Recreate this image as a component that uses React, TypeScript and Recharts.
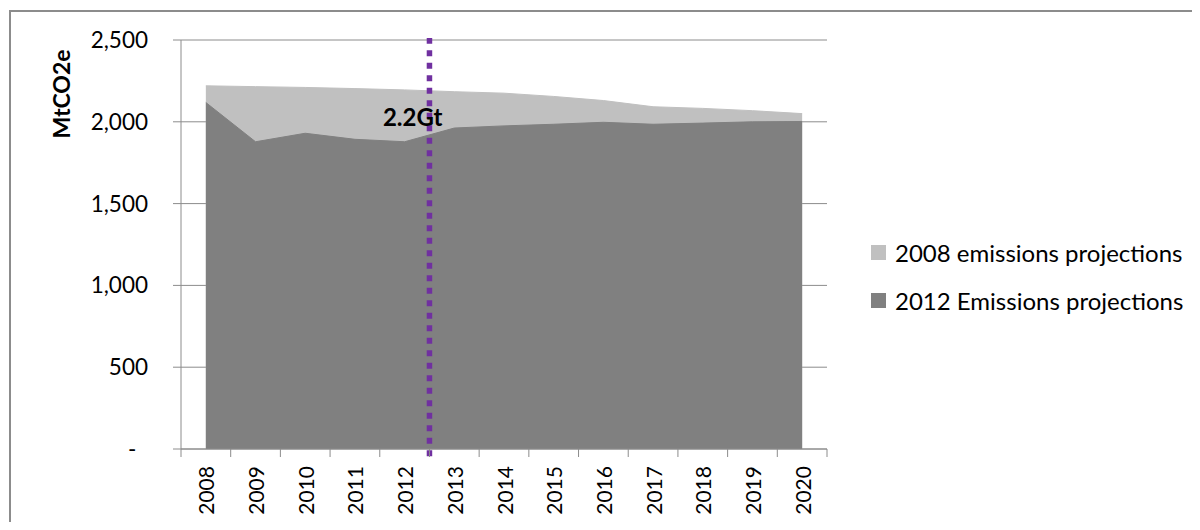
import React from 'react';
import { AreaChart, Area, XAxis, YAxis, CartesianGrid, ReferenceLine, Legend } from 'recharts';

const years = [2008, 2009, 2010, 2011, 2012, 2013, 2014, 2015, 2016, 2017, 2018, 2019, 2020];
const projections2008 = [2220, 2215, 2210, 2203, 2195, 2184, 2175, 2155, 2130, 2092, 2082, 2068, 2050];
const projections2012 = [2118, 1878, 1930, 1893, 1878, 1962, 1975, 1985, 1997, 1985, 1992, 2000, 2002];
const yTicks = [0, 500, 1000, 1500, 2000, 2500];
const seriesNames = ['2008 emissions projections', '2012 Emissions projections'];
const dividerYear = 2012.5;
const dividerLabel = '2.2Gt';
const yTitle = 'MtCO2e';

const data = years.map((year, i) => ({
  year,
  p2008: projections2008[i],
  p2012: projections2012[i],
}));

// tick marks sit between the years (Excel style), labels sit on the years
const xTicks = years.flatMap((y) => [y - 0.5, y]).concat(years[years.length - 1] + 0.5);

const FONT = 'Lato, "Noto Sans", sans-serif';
const AXIS = '#8c8c8c';
const LIGHT = '#c0c0c0';
const DARK = '#808080';
const PURPLE = '#7030a0';

const YearTick = (props: any) => {
  const { x, y, payload } = props;
  if (!Number.isInteger(payload.value)) {
    return <line x1={x} x2={x} y1={y - 17} y2={y - 9} stroke={AXIS} />;
  }
  return (
    <text
      x={x}
      y={y}
      transform={`rotate(-90 ${x} ${y})`}
      textAnchor="end"
      dominantBaseline="central"
      fontFamily={FONT}
      fontSize={21}
      fill="#000"
    >
      {payload.value}
    </text>
  );
};

const formatY = (v: number) => (v === 0 ? '-\u00a0\u00a0' : v.toLocaleString('en-US'));

const YTitle = ({ viewBox }: any) => {
  const x = viewBox.x + 53;
  const y = viewBox.y + 54;
  return (
    <text
      x={x}
      y={y}
      transform={`rotate(-90 ${x} ${y})`}
      textAnchor="middle"
      dominantBaseline="central"
      fontFamily={FONT}
      fontWeight="bold"
      fontSize={23}
      fill="#000"
    >
      {yTitle}
    </text>
  );
};

const DividerLabel = ({ viewBox }: any) => (
  <text
    x={viewBox.x + 13}
    y={viewBox.y + 88}
    textAnchor="end"
    fontFamily={FONT}
    fontWeight="bold"
    fontSize={24}
    fill="#000"
  >
    {dividerLabel}
  </text>
);

const LegendContent = ({ payload }: any) => (
  <div style={{ fontFamily: FONT, fontSize: 24, color: '#000', whiteSpace: 'nowrap' }}>
    {(payload || []).map((entry: any) => (
      <div key={entry.value} style={{ display: 'flex', alignItems: 'center', height: 48 }}>
        <span style={{ width: 15, height: 15, background: entry.color, marginRight: 9, display: 'inline-block' }} />
        <span>{entry.value}</span>
      </div>
    ))}
  </div>
);

export default function App() {
  return (
    <div style={{ position: 'relative', width: 1192, height: 522, marginBottom: -8 }}>
      <div
        style={{
          position: 'absolute',
          left: 1,
          top: 2,
          right: 0,
          bottom: 0,
          borderTop: `2px solid ${AXIS}`,
          borderLeft: `2px solid ${AXIS}`,
        }}
      />
      <div style={{ position: 'absolute', left: 0, top: 0 }}>
        <AreaChart width={1190} height={520} data={data} margin={{ top: 32, right: 371, left: 0, bottom: 0 }}>
          <CartesianGrid vertical={false} stroke={AXIS} />
          <XAxis
            dataKey="year"
            type="number"
            domain={[years[0] - 0.5, years[years.length - 1] + 0.5]}
            ticks={xTicks}
            interval={0}
            tick={<YearTick />}
            tickLine={false}
            tickSize={8}
            tickMargin={9}
            axisLine={{ stroke: AXIS }}
            height={79}
          />
          <YAxis
            type="number"
            domain={[0, 2500]}
            ticks={yTicks}
            interval={0}
            tickFormatter={formatY}
            tickSize={8}
            tickMargin={25}
            tickLine={{ stroke: AXIS }}
            axisLine={{ stroke: AXIS }}
            tick={{ fill: '#000', fontSize: 22.5, fontFamily: FONT }}
            width={173}
            label={<YTitle />}
          />
          <Area
            type="linear"
            dataKey="p2008"
            name={seriesNames[0]}
            fill={LIGHT}
            stroke={LIGHT}
            fillOpacity={1}
            isAnimationActive={false}
          />
          <Area
            type="linear"
            dataKey="p2012"
            name={seriesNames[1]}
            fill={DARK}
            stroke={DARK}
            fillOpacity={1}
            isAnimationActive={false}
          />
          <ReferenceLine
            segment={[{ x: dividerYear, y: -45 }, { x: dividerYear, y: 2512 }]}
            stroke={PURPLE}
            strokeWidth={5.5}
            strokeDasharray="6 6.5"
            ifOverflow="visible"
            label={<DividerLabel />}
          />
          <Legend
            layout="horizontal"
            verticalAlign="middle"
            align="center"
            wrapperStyle={{ left: 863, top: 220, width: 330 }}
            content={<LegendContent />}
          />
        </AreaChart>
      </div>
    </div>
  );
}
